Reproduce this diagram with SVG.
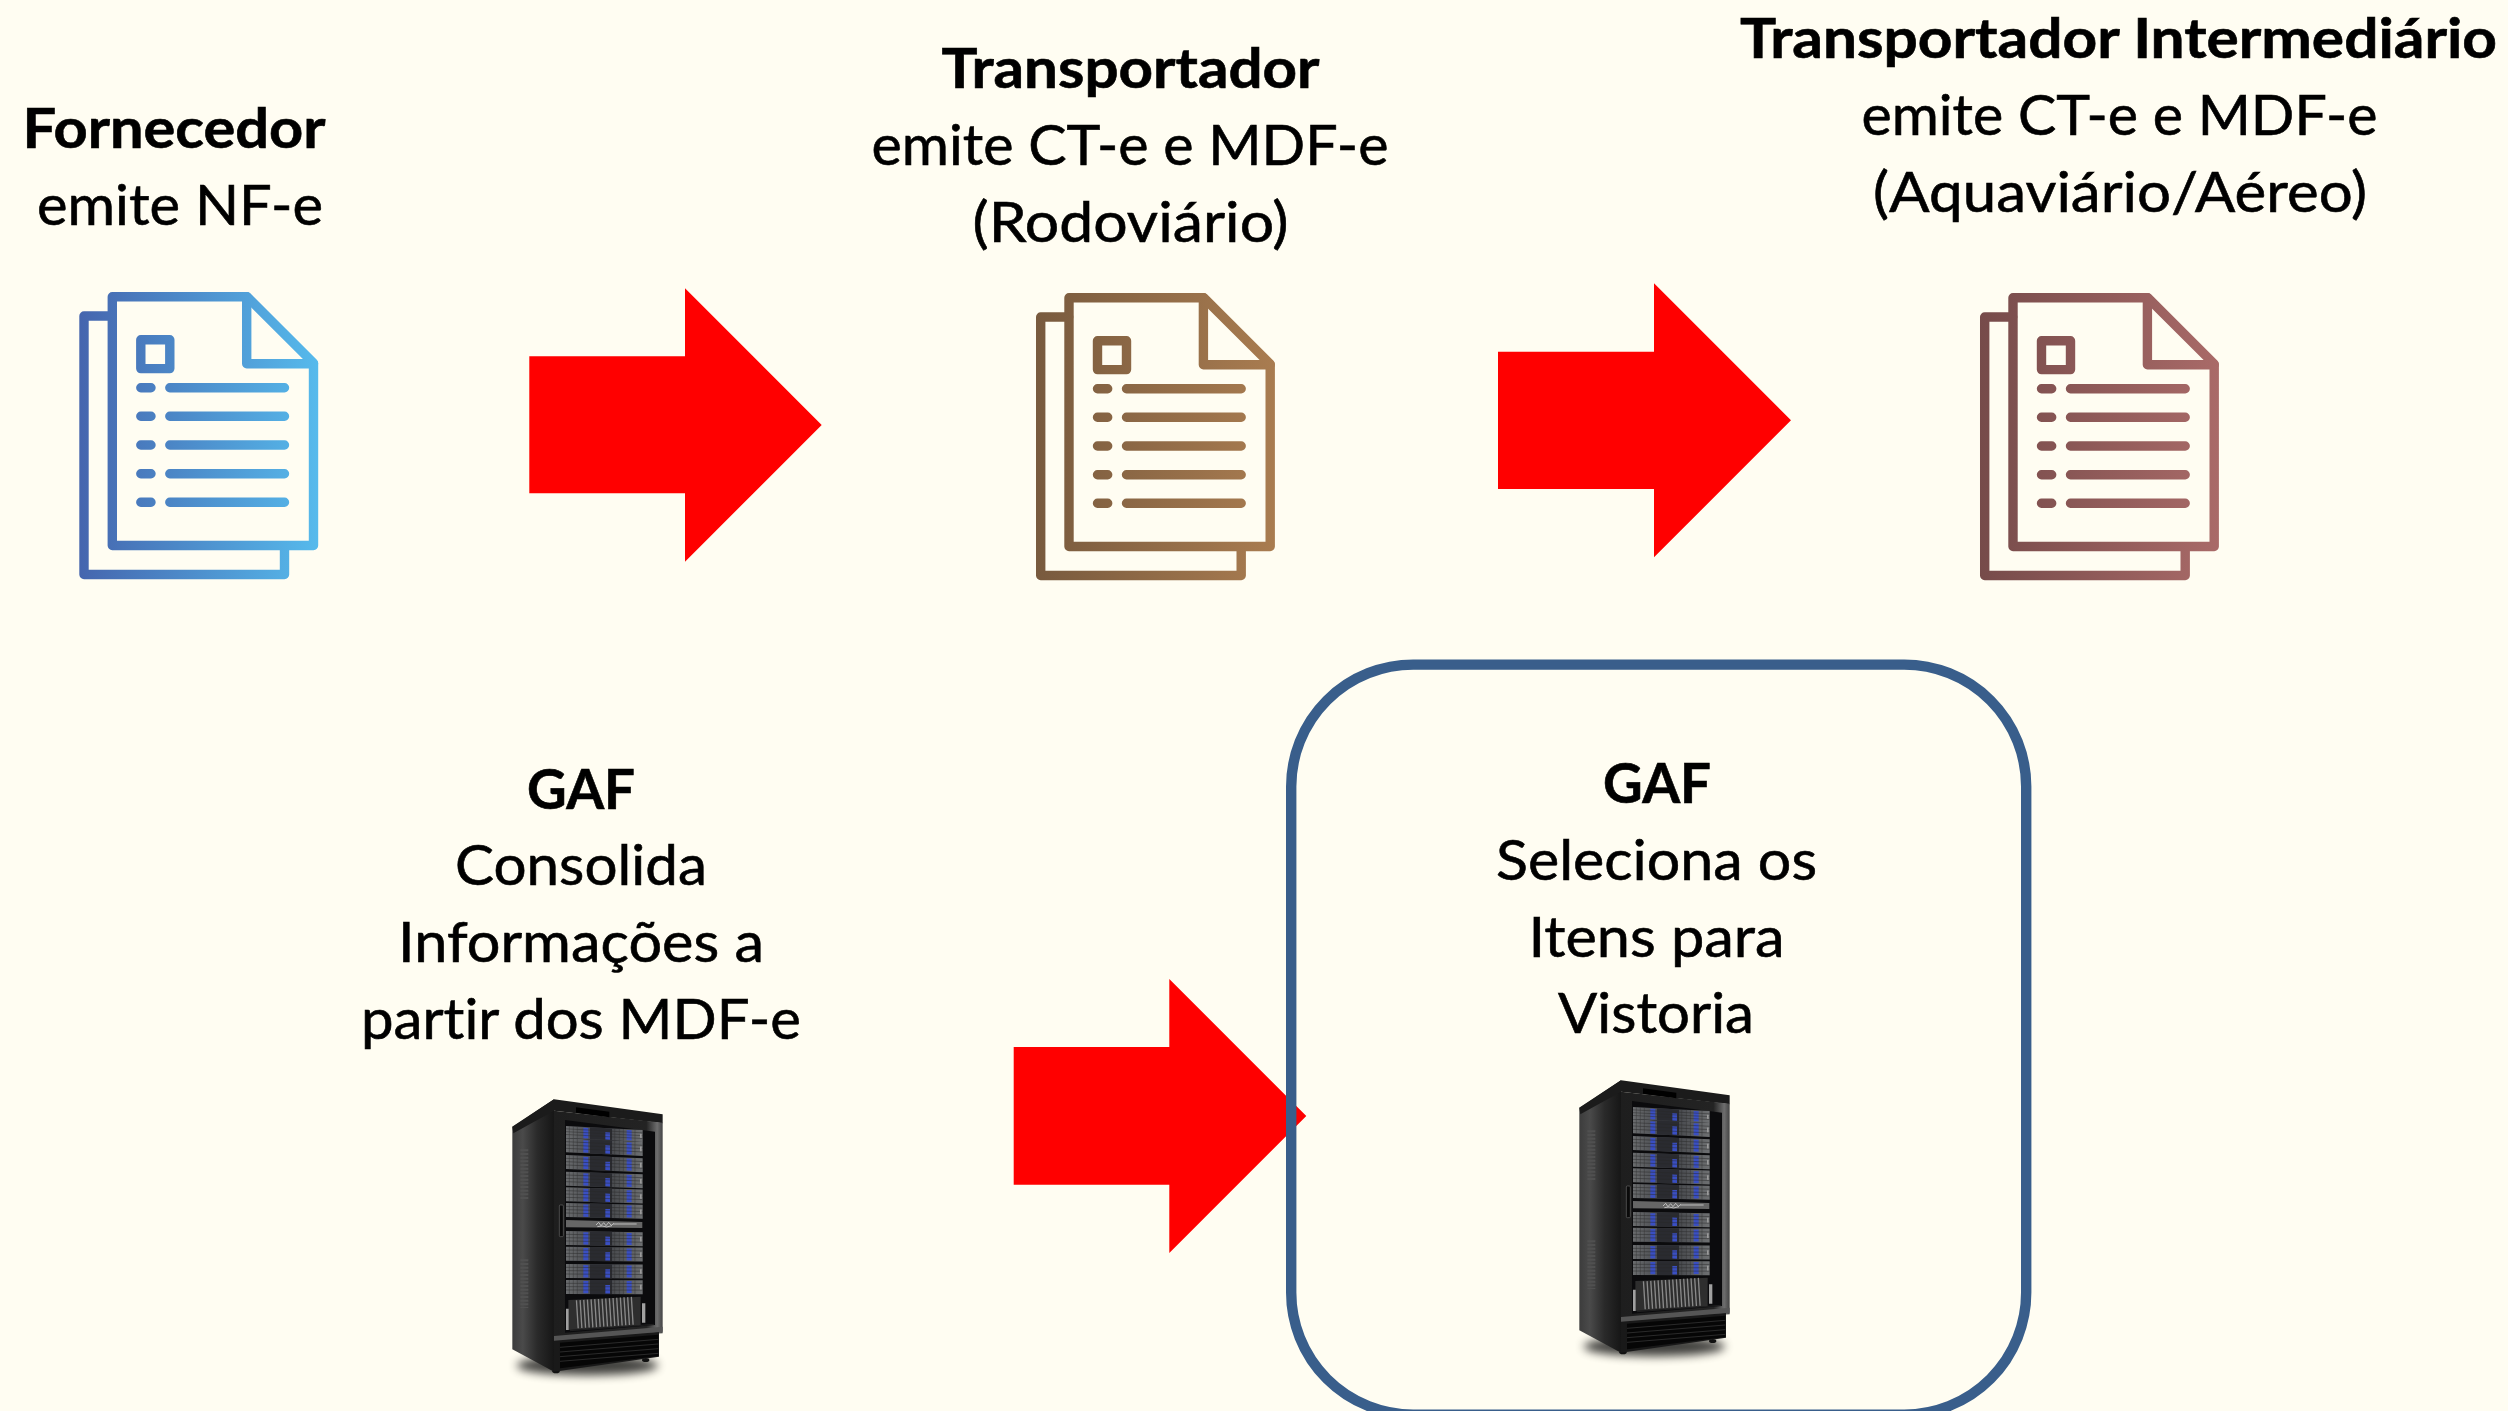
<svg xmlns="http://www.w3.org/2000/svg" xmlns:xlink="http://www.w3.org/1999/xlink" width="2508" height="1411" viewBox="0 0 2508 1411">
<style>
text{font-family:"Lato","Carlito","Open Sans","Liberation Sans",sans-serif;font-size:55.6px;fill:#000;stroke:#000;stroke-width:.6;font-variant-ligatures:none}
.b{font-weight:700}
.arrow{fill:#f00}
.ln{fill:none;stroke-width:9.4;stroke-linecap:round;stroke-linejoin:round}
.frame{fill:none;stroke:#395e8b;stroke-width:10.4}
.vent{fill:none;stroke:#505050}
</style>
<defs>
<linearGradient id="gBlue" gradientUnits="userSpaceOnUse" x1="79" y1="0" x2="318" y2="0"><stop offset="0" stop-color="#4565ae"/><stop offset="1" stop-color="#56baec"/></linearGradient>
<linearGradient id="gBrown" gradientUnits="userSpaceOnUse" x1="79" y1="0" x2="318" y2="0"><stop offset="0" stop-color="#785a3e"/><stop offset="1" stop-color="#a97c50"/></linearGradient>
<linearGradient id="gRed" gradientUnits="userSpaceOnUse" x1="79" y1="0" x2="318" y2="0"><stop offset="0" stop-color="#764b4a"/><stop offset="1" stop-color="#a96a68"/></linearGradient>
<g id="doc" class="ln">
<path d="M112 316H84V574.5H284.5V546"/>
<path d="M112.3 296.7H247L313.5 363V545.5H112.3Z"/>
<path d="M246.7 296.7V363.7H313.5"/>
<rect x="140.8" y="339.8" width="29" height="28.8"/>
<path d="M140.8 387.7H151M169.8 387.7H284.5M140.8 416.3H151M169.8 416.3H284.5M140.8 445H151M169.8 445H284.5M140.8 473.7H151M169.8 473.7H284.5M140.8 502.3H151M169.8 502.3H284.5"/>
</g>
<linearGradient id="side" x1="0" y1="0" x2="1" y2="0"><stop offset="0" stop-color="#3c3c3c"/><stop offset=".25" stop-color="#4a4a4a"/><stop offset=".6" stop-color="#2a2a2a"/><stop offset="1" stop-color="#161616"/></linearGradient>
<linearGradient id="door" x1="0" y1="0" x2="1" y2="0"><stop offset="0" stop-color="#1e1e1e"/><stop offset=".85" stop-color="#232323"/><stop offset=".95" stop-color="#6e6e6e"/><stop offset="1" stop-color="#444"/></linearGradient>
<linearGradient id="unitFill" x1="0" y1="0" x2="1" y2="0"><stop offset="0" stop-color="#6a6c6e"/><stop offset=".3" stop-color="#4c4e52"/><stop offset=".6" stop-color="#484a4e"/><stop offset="1" stop-color="#6e7072"/></linearGradient>
<filter id="blur" x="-30%" y="-200%" width="160%" height="500%"><feGaussianBlur stdDeviation="14"/></filter>
<g id="unit">
<rect width="230" height="42" fill="url(#unitFill)"/>
<rect x="72" width="66" height="42" fill="#2a2b30"/>
<rect x="52" y="3" width="15" height="37" fill="#3a4fc2"/>
<rect x="118" y="15" width="14" height="25" fill="#3a4fc2"/>
<rect x="182" y="3" width="15" height="36" fill="#3a4fc2"/>
<path d="M0 10H230M0 20H230M0 30H230" stroke="#262626" stroke-width="1.4"/>
<path d="M10 0V42M22 0V42M34 0V42M146 0V42M160 0V42M172 0V42M207 0V42" stroke="#2f2f2f" stroke-width="1.2"/>
<rect x="222" y="14" width="5" height="14" fill="#9a9a9a"/>
</g>
<g id="rack">
<ellipse cx="322" cy="886" rx="212" ry="30" fill="#000" opacity=".75" filter="url(#blur)"/>
<ellipse cx="228" cy="904" rx="11" ry="6" fill="#111"/>
<ellipse cx="497" cy="870" rx="11" ry="6" fill="#111"/>
<path d="M97 170L222 88V905L97 838Z" fill="url(#side)"/>
<path d="M97 170L222 88L548 133V160L222 122L100 190Z" fill="#1b1b1b"/>
<path d="M222 122L548 158V790L222 812Z" fill="url(#door)"/>
<path d="M222 810L537 785V860L222 905Z" fill="#191919"/>
<path d="M240 818L535 794V858L240 895Z" fill="#060606"/>
<path d="M240 832L535 808M240 846L535 822M240 860L535 836M240 874L535 850" stroke="#3c3c3c" stroke-width="2"/>
<path d="M222 798L548 770V785L222 812Z" fill="#555"/>
<path d="M288 112L388 125V142L288 128Z" fill="#000"/>
<path d="M255 150L525 185V765L255 788Z" fill="#0b0b0d"/>
<use xlink:href="#unit" href="#unit" transform="translate(258 168) skewY(3) scale(1 .85)"/>
<use xlink:href="#unit" href="#unit" transform="translate(258 205) skewY(2.7) scale(1 1)"/>
<use xlink:href="#unit" href="#unit" transform="translate(258 255) skewY(2.4) scale(1 1)"/>
<use xlink:href="#unit" href="#unit" transform="translate(258 305) skewY(2) scale(1 1)"/>
<use xlink:href="#unit" href="#unit" transform="translate(258 352) skewY(1.7) scale(1 1)"/>
<use xlink:href="#unit" href="#unit" transform="translate(258 399) skewY(1.4) scale(1 1)"/>
<path d="M258 450L487 456V474L258 472Z" fill="#666"/>
<path d="M348 465l8-8l7 10l8-9l7 9l8-10l8 9l8-6M352 470l14-2l14 3l16-4M400 462h70" fill="none" stroke="#ddd" stroke-width="2.2"/>
<use xlink:href="#unit" href="#unit" transform="translate(258 483) skewY(.9) scale(1 1)"/>
<use xlink:href="#unit" href="#unit" transform="translate(258 530) skewY(.7) scale(1 1)"/>
<use xlink:href="#unit" href="#unit" transform="translate(258 582) skewY(.4) scale(1 1)"/>
<use xlink:href="#unit" href="#unit" transform="translate(258 630) skewY(.1) scale(1 1)"/>
<path d="M265 690L482 680V765L265 780Z" fill="#2e2e2e"/>
<path d="M290 733L465 722" stroke="#8a8a8a" stroke-width="84" stroke-dasharray="4 7" fill="none"/>
<path d="M258 716H266V780H258ZM486 700H496V758H486Z" fill="#a0a0a0"/>
<path d="M270 782L522 763" stroke="#2a2a2a" stroke-width="2"/>
<rect x="238" y="405" width="12" height="95" rx="3" fill="#0a0a0a" stroke="#666" stroke-width="2"/>
<path class="vent" d="M133 238V392M133 568V714" stroke-width="24" stroke-dasharray="6 5"/>
</g>
</defs>
<rect width="2508" height="1411" fill="#fffdf2"/>
<g id="connectors">
<path id="arrow-1" class="arrow" d="M529.3 356.3H685V288.3L821.7 425L685 561.7V493.3H529.3Z"/>
<path id="arrow-2" class="arrow" d="M1498 351.7H1654V283.3L1791 420.3L1654 557.3V489H1498Z"/>
<path id="arrow-3" class="arrow" d="M1013.7 1047H1169.3V979L1306.3 1116L1169.3 1253V1184.7H1013.7Z"/>
</g>
<g id="fornecedor">
<text class="b" x="22.5" y="148" textLength="303" lengthAdjust="spacingAndGlyphs">Fornecedor</text>
<text x="37" y="225" textLength="286" lengthAdjust="spacingAndGlyphs">emite NF-e</text>
<use xlink:href="#doc" href="#doc" stroke="url(#gBlue)"/>
</g>
<g id="transportador">
<text class="b" x="941.5" y="88" textLength="378" lengthAdjust="spacingAndGlyphs">Transportador</text>
<text x="871.5" y="165" textLength="517" lengthAdjust="spacingAndGlyphs">emite CT-e e MDF-e</text>
<text x="972.5" y="242" textLength="316" lengthAdjust="spacingAndGlyphs">(Rodoviário)</text>
<use xlink:href="#doc" href="#doc" transform="translate(956.7 1)" stroke="url(#gBrown)"/>
</g>
<g id="transportador-intermediario">
<text class="b" x="1740" y="58" textLength="757" lengthAdjust="spacingAndGlyphs">Transportador Intermediário</text>
<text x="1861.5" y="135" textLength="516" lengthAdjust="spacingAndGlyphs">emite CT-e e MDF-e</text>
<text x="1873" y="212" textLength="494" lengthAdjust="spacingAndGlyphs">(Aquaviário/Aéreo)</text>
<use xlink:href="#doc" href="#doc" transform="translate(1900.7 1)" stroke="url(#gRed)"/>
</g>
<g id="gaf-consolida">
<text class="b" x="527" y="809" textLength="108" lengthAdjust="spacingAndGlyphs">GAF</text>
<text x="455" y="885" textLength="252" lengthAdjust="spacingAndGlyphs">Consolida</text>
<text x="398" y="962" textLength="366" lengthAdjust="spacingAndGlyphs">Informações a</text>
<text x="361" y="1039" textLength="440" lengthAdjust="spacingAndGlyphs">partir dos MDF-e</text>
<use xlink:href="#rack" href="#rack" transform="translate(480 1070) scale(.33333)"/>
</g>
<g id="gaf-seleciona">
<rect class="frame" x="1291.2" y="664.6" width="735" height="750" rx="122" ry="122"/>
<text class="b" x="1603" y="803" textLength="108" lengthAdjust="spacingAndGlyphs">GAF</text>
<text x="1496" y="880" textLength="321" lengthAdjust="spacingAndGlyphs">Seleciona os</text>
<text x="1528.5" y="957" textLength="256" lengthAdjust="spacingAndGlyphs">Itens para</text>
<text x="1558" y="1033" textLength="196" lengthAdjust="spacingAndGlyphs">Vistoria</text>
<use xlink:href="#rack" href="#rack" transform="translate(1547 1051) scale(.33333)"/>
</g>
</svg>
